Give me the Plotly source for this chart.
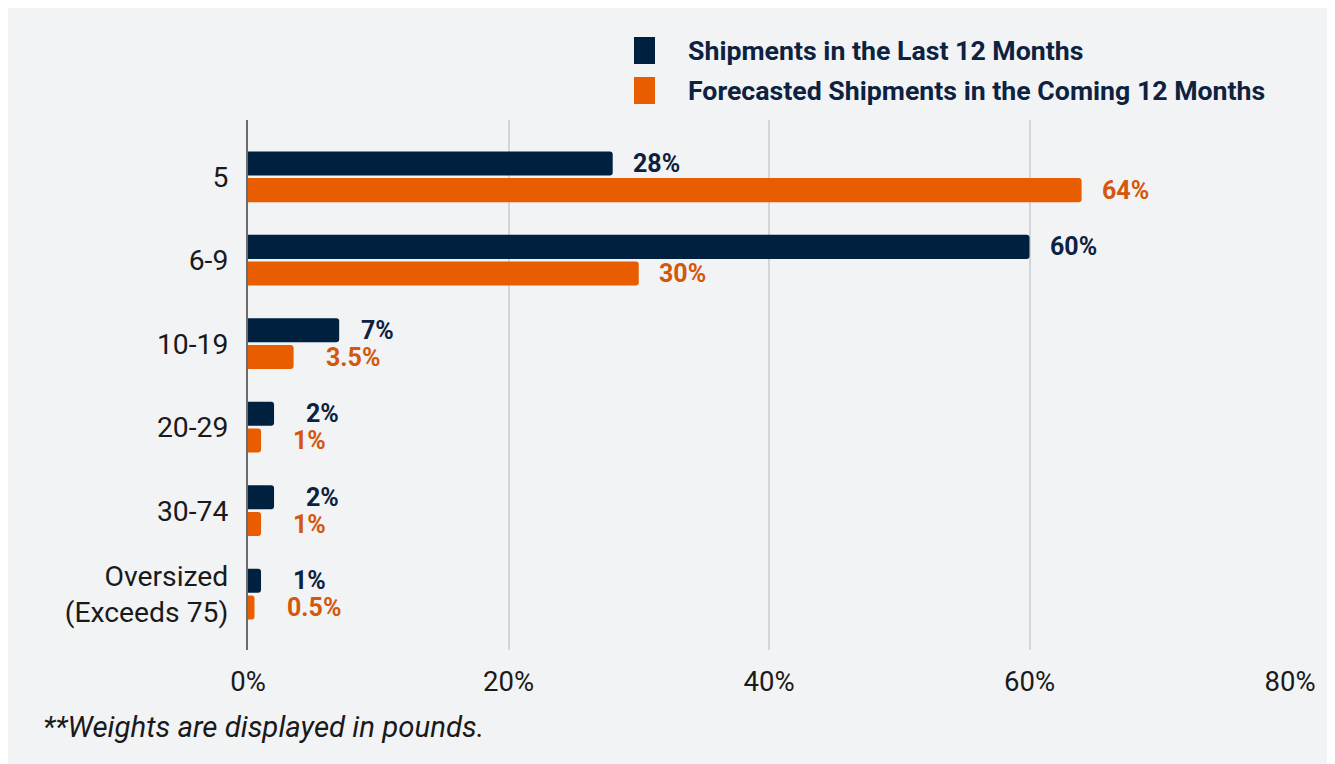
import plotly.graph_objects as go

categories = ["5", "6-9", "10-19", "20-29", "30-74", "Oversized<br>(Exceeds 75)"]
last_12 = [28, 60, 7, 2, 2, 1]
next_12 = [64, 30, 3.5, 1, 1, 0.5]
last_labels = ["28%", "60%", "7%", "2%", "2%", "1%"]
next_labels = ["64%", "30%", "3.5%", "1%", "1%", "0.5%"]
series_names = ["Shipments in the Last 12 Months", "Forecasted Shipments in the Coming 12 Months"]
tick_vals = [0, 20, 40, 60, 80]
tick_text = ["0%", "20%", "40%", "60%", "80%"]

NAVY = "#00203f"
ORANGE = "#e85d00"
NAVY_TXT = "#0d2240"
ORANGE_TXT = "#d4570b"
BG = "#f2f3f5"
FONT = "Roboto"

# page body has an 8px margin
OFF = 8
W, H = 1325, 756
L, R, T, B = 240, 43, 112, 114
pw, ph = W - L - R, H - T - B

ypos = list(range(len(categories)))

fig = go.Figure()
fig.add_trace(go.Bar(y=ypos, x=last_12, orientation="h", name=series_names[0],
                     marker=dict(color=NAVY, line=dict(width=0)), showlegend=False))
fig.add_trace(go.Bar(y=ypos, x=next_12, orientation="h", name=series_names[1],
                     marker=dict(color=ORANGE, line=dict(width=0)), showlegend=False))


def label_shift(v):
    if v >= 20:
        return 18
    if v >= 5:
        return 20
    return 30


# data labels
for vals, labs, col, shift in [(last_12, last_labels, NAVY_TXT, 13.5), (next_12, next_labels, ORANGE_TXT, -13.5)]:
    for yi, v, t in zip(ypos, vals, labs):
        fig.add_annotation(x=v, y=yi, text=f"<b>{t}</b>", showarrow=False, xanchor="left",
                           xshift=label_shift(v), yshift=shift,
                           font=dict(family=FONT, size=25, color=col))


def px(sx):
    return (sx - OFF - L) / pw


def py(sy):
    return (H - B - (sy - OFF)) / ph


# custom legend
for i, (name, col) in enumerate(zip(series_names, [NAVY, ORANGE])):
    y0, y1 = (37, 64) if i == 0 else (77, 104)
    fig.add_shape(type="rect", xref="paper", yref="paper", x0=px(634), x1=px(655), y0=py(y1), y1=py(y0),
                  fillcolor=col, line=dict(width=0))
    fig.add_annotation(xref="paper", yref="paper", x=px(686), y=py((y0 + y1) / 2), text=f"<b>{name}</b>",
                       showarrow=False, xanchor="left", yanchor="middle",
                       font=dict(family=FONT, size=26.7, color=NAVY_TXT))

# footnote
fig.add_annotation(xref="paper", yref="paper", x=px(41), y=py(727), text="<i>**Weights are displayed in pounds.</i>",
                   showarrow=False, xanchor="left", yanchor="middle",
                   font=dict(family=FONT, size=29.4, color="#1a1a1a"))

fig.update_layout(
    width=W, height=H,
    margin=dict(l=L, r=R, t=T, b=B, pad=0),
    paper_bgcolor=BG, plot_bgcolor=BG,
    barmode="group", bargap=0.36, bargroupgap=0.1, barcornerradius=3,
    font=dict(family=FONT, size=28, color="#1a1a1a"),
    showlegend=False,
)
fig.update_xaxes(range=[0, 80], tickvals=tick_vals, ticktext=tick_text, showgrid=True,
                 gridcolor="#d3d5d9", gridwidth=1.5, zeroline=False, showline=False,
                 ticks="", ticklabelstandoff=12, tickfont=dict(family=FONT, size=27.5, color="#1a1a1a"))
fig.update_yaxes(range=[5.67, -0.68], tickvals=ypos, ticktext=categories, showgrid=False,
                 zeroline=False, showline=True, linecolor="#6b6b6b", linewidth=2, ticks="",
                 ticklabelstandoff=12, tickfont=dict(family=FONT, size=28.3, color="#1a1a1a"))

fig.write_html("out.html")
